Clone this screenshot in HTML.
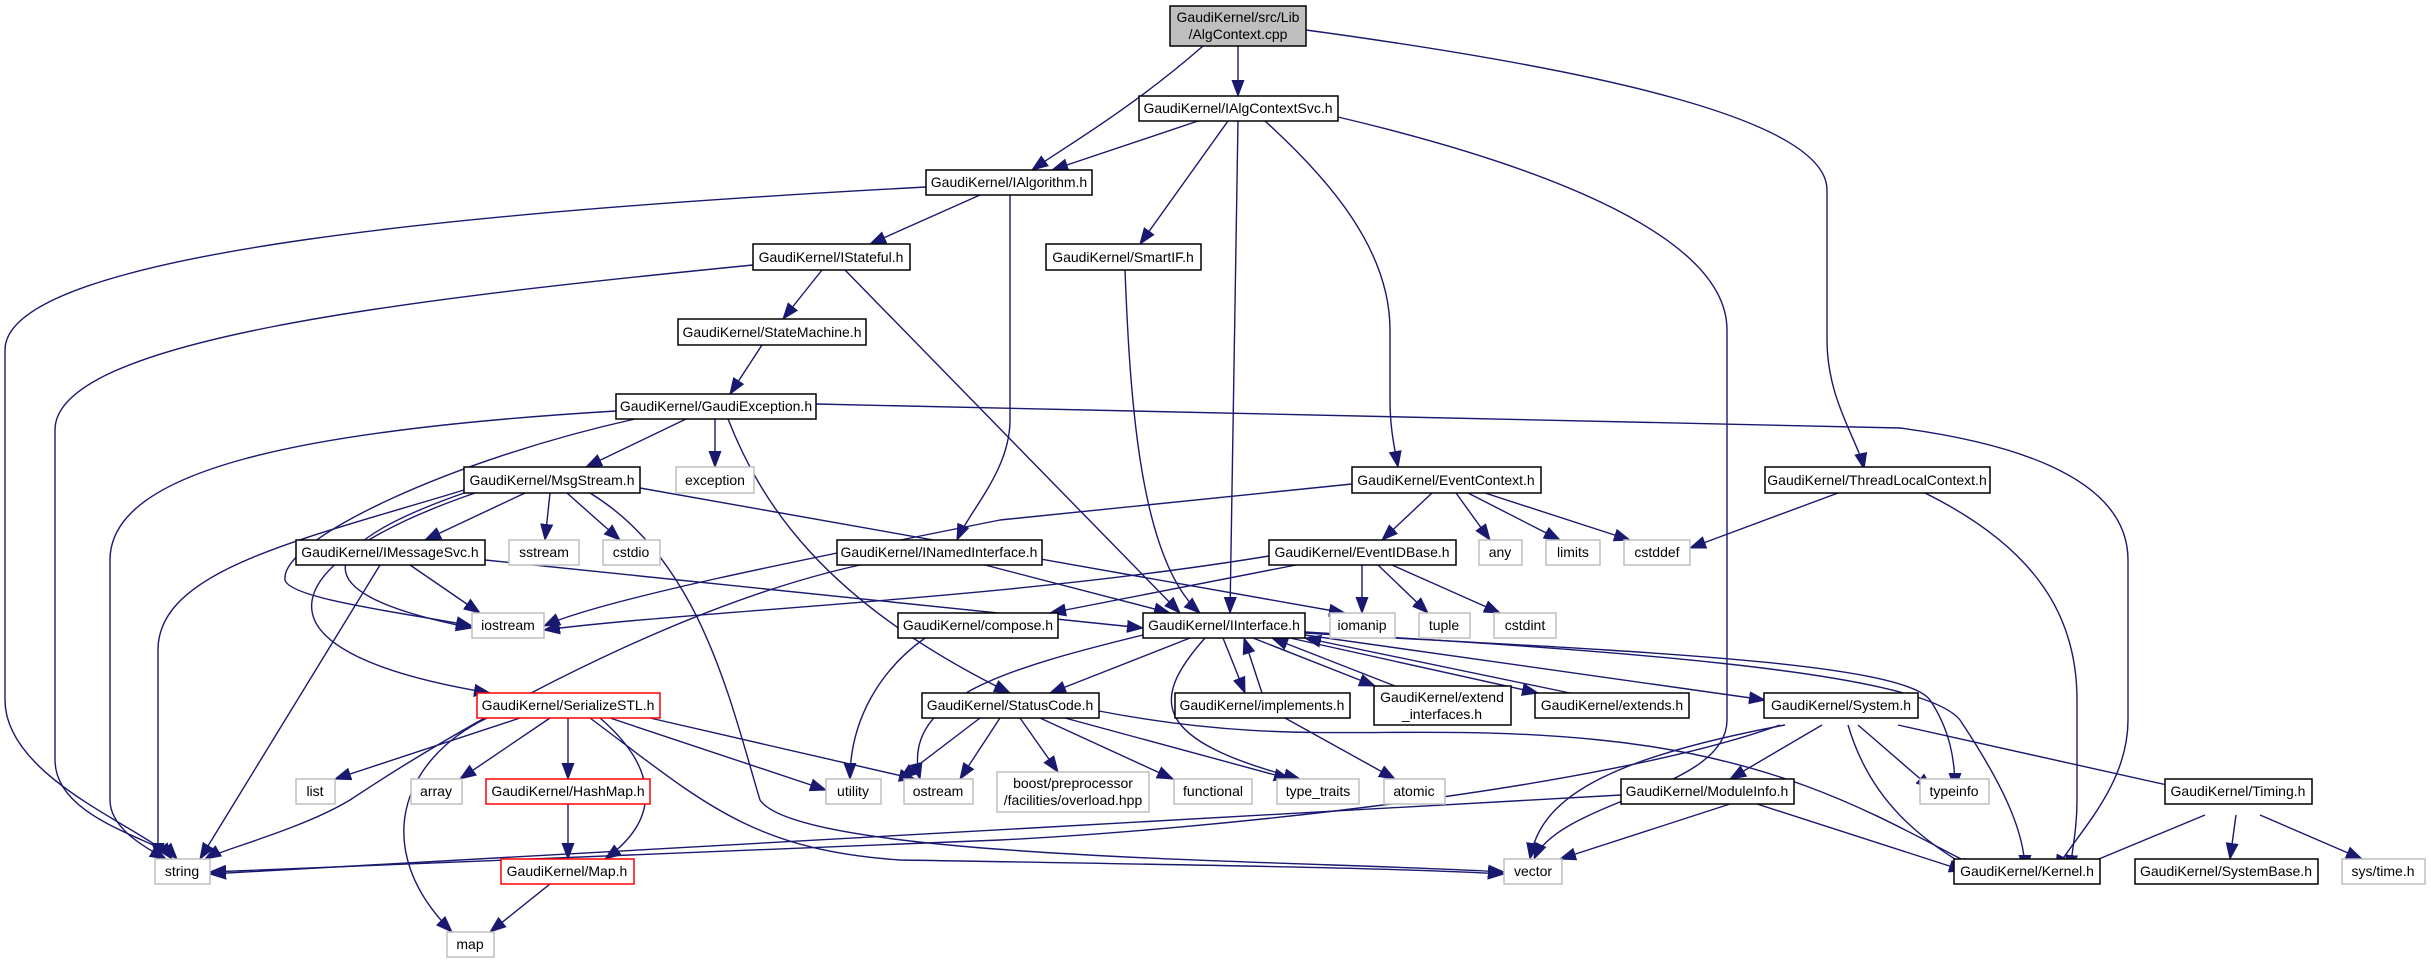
<!DOCTYPE html>
<html><head><meta charset="utf-8"><style>
html,body{margin:0;padding:0;background:#fff;}
svg{display:block;}
text{font-family:"Liberation Sans",sans-serif;font-size:14px;fill:#000;}
.e{fill:none;stroke:#191970;stroke-width:1.4;}
</style></head><body>
<svg width="2431" height="977" viewBox="0 0 2431 977" xmlns="http://www.w3.org/2000/svg">
<defs>
<marker id="a" markerUnits="userSpaceOnUse" markerWidth="17" markerHeight="14" refX="16" refY="7" orient="auto">
<path d="M0,1 L16,7 L0,13 Z" fill="#191970" stroke="#191970"/>
</marker>
</defs>
<g class="edges" marker-end="url(#a)">
<path class="e" d="M1203,46 C1130,110 1060,150 1032,170"/>
<path class="e" d="M1238,46 L1238,96"/>
<path class="e" d="M1306,30 C1600,70 1827,120 1827,190 L1827,340 C1827,400 1858,440 1864,469"/>
<path class="e" d="M1198,121 L1052,170"/>
<path class="e" d="M1228,121 L1140,244"/>
<path class="e" d="M1238,121 L1230,613"/>
<path class="e" d="M1265,121 C1330,180 1390,250 1390,330 L1390,400 C1390,430 1395,450 1398,467"/>
<path class="e" d="M1338,117 C1520,160 1727,230 1727,330 L1727,720 C1727,790 1560,800 1534,859"/>
<path class="e" d="M926,187 C500,210 5,250 5,350 L5,700 C5,780 150,830 172,859"/>
<path class="e" d="M980,195 L870,244"/>
<path class="e" d="M1010,195 L1010,420 C1010,470 970,510 957,540"/>
<path class="e" d="M753,265 C400,300 55,340 55,430 L55,760 C55,820 160,840 177,859"/>
<path class="e" d="M822,270 L783,319"/>
<path class="e" d="M845,270 L1180,613"/>
<path class="e" d="M1125,270 C1130,400 1140,560 1200,613"/>
<path class="e" d="M762,345 L730,394"/>
<path class="e" d="M616,411 C300,430 110,470 110,560 L110,800 C110,830 150,850 166,859"/>
<path class="e" d="M686,419 L586,467"/>
<path class="e" d="M635,419 C450,460 280,540 285,580 C290,600 420,615 472,626"/>
<path class="e" d="M715,419 L715,467"/>
<path class="e" d="M728,419 C760,500 820,600 1010,693"/>
<path class="e" d="M816,404 L1900,428 C1990,440 2128,470 2128,560 L2128,720 C2128,790 2070,840 2056,871"/>
<path class="e" d="M464,490 C300,540 158,570 158,650 L158,859"/>
<path class="e" d="M525,493 L425,540"/>
<path class="e" d="M550,493 L545,540"/>
<path class="e" d="M567,493 L620,540"/>
<path class="e" d="M640,488 L1345,613"/>
<path class="e" d="M475,493 C280,560 230,650 490,693"/>
<path class="e" d="M464,493 C330,540 280,590 472,628"/>
<path class="e" d="M590,493 C700,560 730,700 760,800 C800,860 1300,860 1504,872"/>
<path class="e" d="M410,565 L480,613"/>
<path class="e" d="M380,565 L200,859"/>
<path class="e" d="M485,560 L1143,628"/>
<path class="e" d="M1352,484 L1000,520 C800,560 600,600 544,626"/>
<path class="e" d="M1432,493 L1382,540"/>
<path class="e" d="M1456,493 L1490,540"/>
<path class="e" d="M1468,493 L1560,540"/>
<path class="e" d="M1485,493 L1630,540"/>
<path class="e" d="M1838,493 L1690,548"/>
<path class="e" d="M1925,493 C2040,550 2077,620 2077,700 L2077,800 C2077,830 2072,850 2070,871"/>
<path class="e" d="M860,565 C700,600 500,700 350,800 C300,830 220,850 205,859"/>
<path class="e" d="M985,565 L1170,613"/>
<path class="e" d="M1269,556 C1000,600 700,610 544,630"/>
<path class="e" d="M1296,565 L1050,613"/>
<path class="e" d="M1362,565 L1362,613"/>
<path class="e" d="M1378,565 L1428,613"/>
<path class="e" d="M1392,565 L1500,613"/>
<path class="e" d="M925,638 C880,670 850,720 850,779"/>
<path class="e" d="M1190,638 L1050,693"/>
<path class="e" d="M1143,635 C1000,670 900,700 920,779"/>
<path class="e" d="M1205,638 C1150,700 1150,740 1300,779"/>
<path class="e" d="M1223,638 L1245,693"/>
<path class="e" d="M1262,693 L1244,638"/>
<path class="e" d="M1253,638 L1375,686"/>
<path class="e" d="M1395,686 L1272,638"/>
<path class="e" d="M1290,638 L1538,693"/>
<path class="e" d="M1570,693 L1305,638"/>
<path class="e" d="M1305,635 L1765,700"/>
<path class="e" d="M1305,633 C1600,650 1900,660 1930,700 C1950,730 1955,760 1955,789"/>
<path class="e" d="M1305,632 C1600,650 1920,670 1960,720 C2000,780 2025,830 2025,871"/>
<path class="e" d="M980,718 L900,779"/>
<path class="e" d="M1000,718 L960,779"/>
<path class="e" d="M1020,718 L1058,772"/>
<path class="e" d="M1040,718 L1173,779"/>
<path class="e" d="M1065,718 L1290,779"/>
<path class="e" d="M1099,711 C1300,750 1400,720 1600,740 C1800,760 1900,830 1985,871"/>
<path class="e" d="M1285,718 L1395,779"/>
<path class="e" d="M1785,725 C1600,760 1540,800 1530,859"/>
<path class="e" d="M1780,725 C1600,790 1200,830 1000,840 L210,872"/>
<path class="e" d="M1822,725 L1730,779"/>
<path class="e" d="M1858,725 L1932,789"/>
<path class="e" d="M1848,725 C1870,800 1920,840 1975,871"/>
<path class="e" d="M1898,725 L2185,789"/>
<path class="e" d="M1730,804 L1560,859"/>
<path class="e" d="M1621,795 L210,874"/>
<path class="e" d="M1757,804 L1965,871"/>
<path class="e" d="M2205,815 L2070,871"/>
<path class="e" d="M2236,815 L2230,859"/>
<path class="e" d="M2260,815 L2362,859"/>
<path class="e" d="M520,718 L335,779"/>
<path class="e" d="M550,718 L460,779"/>
<path class="e" d="M568,718 L568,779"/>
<path class="e" d="M600,718 C660,770 660,820 605,859"/>
<path class="e" d="M487,718 C400,760 370,850 452,932"/>
<path class="e" d="M610,718 L826,790"/>
<path class="e" d="M650,718 L915,779"/>
<path class="e" d="M590,718 C700,800 750,850 900,860 C1200,865 1400,868 1504,874"/>
<path class="e" d="M568,804 L568,859"/>
<path class="e" d="M550,884 L490,932"/>
</g>
<g stroke-width="1.5">
<rect x="1170" y="6" width="136" height="40" fill="#bfbfbf" stroke="#000"/>
<text x="1238" y="22" text-anchor="middle">GaudiKernel/src/Lib</text>
<text x="1238" y="39" text-anchor="middle">/AlgContext.cpp</text>
<rect x="477" y="693" width="183" height="25" fill="#fff" stroke="#ff0000"/>
<rect x="486" y="779" width="164" height="25" fill="#fff" stroke="#ff0000"/>
<rect x="501" y="859" width="133" height="25" fill="#fff" stroke="#ff0000"/>
<rect x="1374" y="686" width="137" height="39" fill="#fff" stroke="#000"/>
<text x="1442" y="702" text-anchor="middle">GaudiKernel/extend</text>
<text x="1442" y="719" text-anchor="middle">_interfaces.h</text>
<rect x="997" y="772" width="152" height="40" fill="#fff" stroke="#bfbfbf"/>
<text x="1073" y="788" text-anchor="middle">boost/preprocessor</text>
<text x="1073" y="805" text-anchor="middle">/facilities/overload.hpp</text>
</g>
<g stroke-width="1.5" fill="#fff">
<rect x="1139" y="96" width="199" height="25" stroke="#000"/>
<rect x="926" y="170" width="166" height="25" stroke="#000"/>
<rect x="753" y="244" width="157" height="26" stroke="#000"/>
<rect x="1046" y="244" width="155" height="26" stroke="#000"/>
<rect x="678" y="319" width="188" height="26" stroke="#000"/>
<rect x="616" y="394" width="200" height="25" stroke="#000"/>
<rect x="464" y="467" width="176" height="26" stroke="#000"/>
<rect x="1352" y="467" width="189" height="26" stroke="#000"/>
<rect x="1765" y="467" width="225" height="26" stroke="#000"/>
<rect x="296" y="540" width="189" height="25" stroke="#000"/>
<rect x="837" y="540" width="205" height="25" stroke="#000"/>
<rect x="1269" y="540" width="187" height="25" stroke="#000"/>
<rect x="898" y="613" width="160" height="25" stroke="#000"/>
<rect x="1143" y="613" width="162" height="25" stroke="#000"/>
<rect x="922" y="693" width="177" height="25" stroke="#000"/>
<rect x="1175" y="693" width="175" height="25" stroke="#000"/>
<rect x="1535" y="693" width="154" height="25" stroke="#000"/>
<rect x="1764" y="693" width="154" height="25" stroke="#000"/>
<rect x="1621" y="779" width="173" height="25" stroke="#000"/>
<rect x="2165" y="779" width="147" height="25" stroke="#000"/>
<rect x="1954" y="859" width="146" height="25" stroke="#000"/>
<rect x="2135" y="859" width="183" height="25" stroke="#000"/>
<rect x="676" y="467" width="78" height="26" stroke="#bfbfbf"/>
<rect x="509" y="540" width="70" height="25" stroke="#bfbfbf"/>
<rect x="603" y="540" width="57" height="25" stroke="#bfbfbf"/>
<rect x="1479" y="540" width="43" height="25" stroke="#bfbfbf"/>
<rect x="1546" y="540" width="54" height="25" stroke="#bfbfbf"/>
<rect x="1624" y="540" width="66" height="25" stroke="#bfbfbf"/>
<rect x="472" y="613" width="72" height="25" stroke="#bfbfbf"/>
<rect x="1330" y="613" width="65" height="25" stroke="#bfbfbf"/>
<rect x="1419" y="613" width="51" height="25" stroke="#bfbfbf"/>
<rect x="1494" y="613" width="62" height="25" stroke="#bfbfbf"/>
<rect x="296" y="779" width="39" height="25" stroke="#bfbfbf"/>
<rect x="411" y="779" width="51" height="25" stroke="#bfbfbf"/>
<rect x="826" y="779" width="55" height="25" stroke="#bfbfbf"/>
<rect x="904" y="779" width="69" height="25" stroke="#bfbfbf"/>
<rect x="1174" y="779" width="78" height="25" stroke="#bfbfbf"/>
<rect x="1277" y="779" width="82" height="25" stroke="#bfbfbf"/>
<rect x="1384" y="779" width="61" height="25" stroke="#bfbfbf"/>
<rect x="1920" y="779" width="69" height="25" stroke="#bfbfbf"/>
<rect x="155" y="859" width="55" height="25" stroke="#bfbfbf"/>
<rect x="1504" y="859" width="58" height="25" stroke="#bfbfbf"/>
<rect x="2342" y="859" width="83" height="25" stroke="#bfbfbf"/>
<rect x="447" y="932" width="47" height="25" stroke="#bfbfbf"/>
</g>
<g text-anchor="middle">
<text x="1238" y="113">GaudiKernel/IAlgContextSvc.h</text>
<text x="1009" y="187">GaudiKernel/IAlgorithm.h</text>
<text x="831" y="262">GaudiKernel/IStateful.h</text>
<text x="1123" y="262">GaudiKernel/SmartIF.h</text>
<text x="772" y="337">GaudiKernel/StateMachine.h</text>
<text x="716" y="411">GaudiKernel/GaudiException.h</text>
<text x="552" y="485">GaudiKernel/MsgStream.h</text>
<text x="715" y="485">exception</text>
<text x="1446" y="485">GaudiKernel/EventContext.h</text>
<text x="1877" y="485">GaudiKernel/ThreadLocalContext.h</text>
<text x="390" y="557">GaudiKernel/IMessageSvc.h</text>
<text x="544" y="557">sstream</text>
<text x="631" y="557">cstdio</text>
<text x="939" y="557">GaudiKernel/INamedInterface.h</text>
<text x="1362" y="557">GaudiKernel/EventIDBase.h</text>
<text x="1500" y="557">any</text>
<text x="1573" y="557">limits</text>
<text x="1657" y="557">cstddef</text>
<text x="508" y="630">iostream</text>
<text x="978" y="630">GaudiKernel/compose.h</text>
<text x="1224" y="630">GaudiKernel/IInterface.h</text>
<text x="1362" y="630">iomanip</text>
<text x="1444" y="630">tuple</text>
<text x="1525" y="630">cstdint</text>
<text x="568" y="710">GaudiKernel/SerializeSTL.h</text>
<text x="1010" y="710">GaudiKernel/StatusCode.h</text>
<text x="1262" y="710">GaudiKernel/implements.h</text>
<text x="1612" y="710">GaudiKernel/extends.h</text>
<text x="1841" y="710">GaudiKernel/System.h</text>
<text x="315" y="796">list</text>
<text x="436" y="796">array</text>
<text x="568" y="796">GaudiKernel/HashMap.h</text>
<text x="853" y="796">utility</text>
<text x="938" y="796">ostream</text>
<text x="1213" y="796">functional</text>
<text x="1318" y="796">type_traits</text>
<text x="1414" y="796">atomic</text>
<text x="1707" y="796">GaudiKernel/ModuleInfo.h</text>
<text x="1954" y="796">typeinfo</text>
<text x="2238" y="796">GaudiKernel/Timing.h</text>
<text x="182" y="876">string</text>
<text x="567" y="876">GaudiKernel/Map.h</text>
<text x="1533" y="876">vector</text>
<text x="2027" y="876">GaudiKernel/Kernel.h</text>
<text x="2226" y="876">GaudiKernel/SystemBase.h</text>
<text x="2383" y="876">sys/time.h</text>
<text x="470" y="949">map</text>
</g>
</svg>
</body></html>
